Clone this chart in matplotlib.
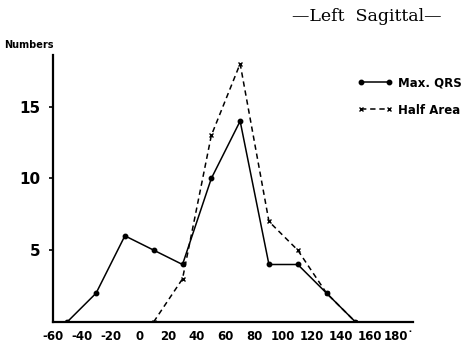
import matplotlib
matplotlib.use("Agg")
import matplotlib.pyplot as plt

# Data
x_max_qrs = [-50, -30, -10, 10, 30, 50, 70, 90, 110, 130, 150]
y_max_qrs = [0, 2, 6, 5, 4, 10, 14, 4, 4, 2, 0]
x_half_area = [10, 30, 50, 70, 90, 110, 130, 150]
y_half_area = [0, 3, 13, 18, 7, 5, 2, 0]
x_ticks = [-60, -40, -20, 0, 20, 40, 60, 80, 100, 120, 140, 160, 180]
x_ticklabels = ["-60", "-40", "-20", "0", "20", "40", "60", "80", "100", "120", "140", "160", "180\u02d9"]
y_ticks = [5, 10, 15]
y_ticklabels = ["5", "10", "15"]
title = "\u2014Left  Sagittal\u2014"
ylabel = "Numbers"
series_labels = ["Max. QRS", "Half Area"]

fig = plt.figure(figsize=(4.72, 3.51), dpi=100)
ax = fig.add_axes([0.112, 0.083, 0.763, 0.76])

ax.plot(x_max_qrs, y_max_qrs, color="black", lw=1.1, marker="o", ms=3.2,
        label=series_labels[0])
ax.plot(x_half_area, y_half_area, color="black", lw=1.1, ls=(0, (3.5, 2.5)),
        marker="x", ms=3.5, mew=1.0, label=series_labels[1])

ax.set_xlim(-60, 190)
ax.set_ylim(0, 18.6)
ax.spines["top"].set_visible(False)
ax.spines["right"].set_visible(False)
ax.spines["left"].set_linewidth(1.6)
ax.spines["bottom"].set_linewidth(1.6)

ax.set_xticks(x_ticks)
ax.set_xticklabels(x_ticklabels, fontsize=8.5, fontweight="bold")
ax.set_yticks(y_ticks)
ax.set_yticklabels(y_ticklabels, fontsize=11, fontweight="bold")
ax.tick_params(axis="x", length=0, pad=6)
ax.tick_params(axis="y", length=3, width=1.2, pad=6)

fig.text(0.008, 0.872, ylabel, fontsize=7, fontweight="bold", ha="left", va="center")
fig.text(0.776, 0.952, title, fontsize=12.5, family="DejaVu Serif", ha="center", va="center")

leg = ax.legend(loc="upper left", bbox_to_anchor=(0.815, 0.96), frameon=False,
                numpoints=2, handlelength=3.0, handletextpad=0.45, labelspacing=1.2,
                prop={"weight": "bold", "size": 8.5})

fig.savefig("out.png", dpi=100)
